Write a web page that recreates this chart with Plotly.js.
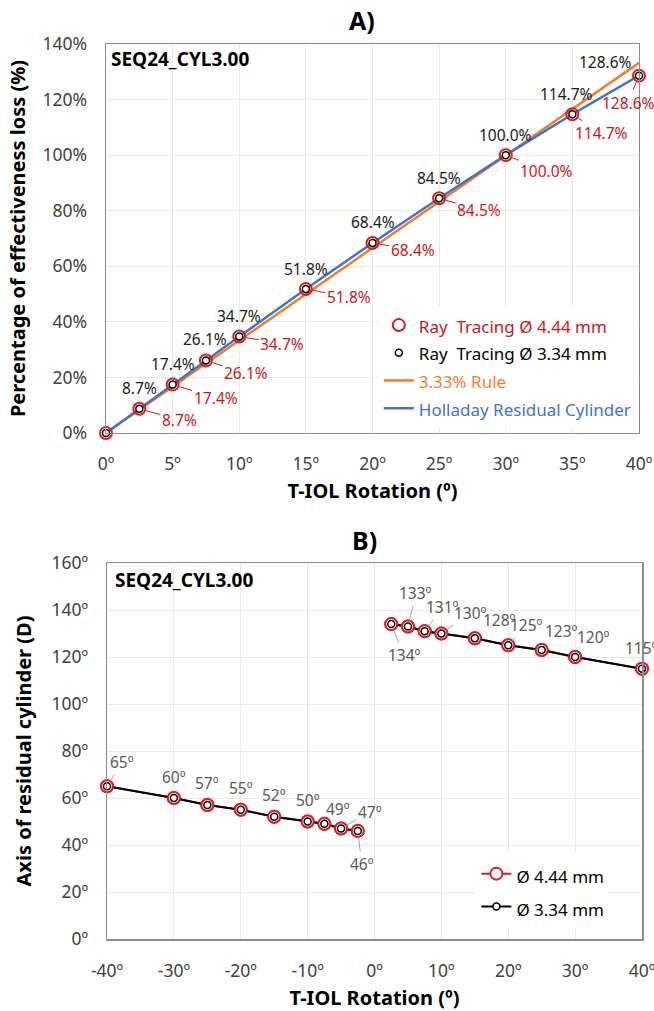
<!DOCTYPE html>
<html>
<head>
<meta charset="utf-8">
<script src="https://cdn.plot.ly/plotly-3.0.1.min.js"></script>
<style>
html,body{margin:0;padding:0;background:#fff;}
#chart{width:654px;height:1011px;}
</style>
</head>
<body>
<div id="chart"></div>
<script>
// ---------- Panel A data ----------
const rotationA = [0, 2.5, 5, 7.5, 10, 15, 20, 25, 30, 35, 40];
const lossRay444 = [0, 8.7, 17.4, 26.1, 34.7, 51.8, 68.4, 84.5, 100.0, 114.7, 128.6];
const lossRay334 = [0, 8.7, 17.4, 26.1, 34.7, 51.8, 68.4, 84.5, 100.0, 114.7, 128.6];
const ruleLoss = [0, 8.3, 16.7, 25.0, 33.3, 50.0, 66.6, 83.3, 99.9, 116.6, 133.2];
const holladayLoss = [0, 8.7, 17.4, 26.1, 34.7, 51.8, 68.4, 84.5, 100.0, 114.7, 128.6];
const xTicksA = [0, 5, 10, 15, 20, 25, 30, 35, 40];
const yTicksA = [0, 20, 40, 60, 80, 100, 120, 140];

// ---------- Panel B data ----------
const rotationNeg = [-40, -30, -25, -20, -15, -10, -7.5, -5, -2.5];
const axisNeg = [65, 60, 57, 55, 52, 50, 49, 47, 46];
const rotationPos = [2.5, 5, 7.5, 10, 15, 20, 25, 30, 40];
const axisPos = [134, 133, 131, 130, 128, 125, 123, 120, 115];
const xTicksB = [-40, -30, -20, -10, 0, 10, 20, 30, 40];
const yTicksB = [0, 20, 40, 60, 80, 100, 120, 140, 160];

// ---------- styles / label placement (pixel offsets) ----------
const FONT = 'Noto Sans, Open Sans, sans-serif';
const RED = '#D0202A', RED_TXT = '#C8161E', ORANGE = '#ED7D31', BLUE = '#4472C4';
const GRID = '#ECE9DF', FRAME = '#8C8C8C', TICK = '#404040', GREY_TXT = '#595959';

const redOff = [null, [40,11],[43,13],[40,13],[43,7],[43,8],[40,7],[40,12],[41,16],[29,19],[-11,27]];
const blackOff = [null, [0,-21],[0,-21],[-1,-21],[0,-21],[0,-20],[0,-21],[0,-20],[0,-20],[-6,-20],[-34,-14]];
const negOff = [[15,-24,1],[0,-21,0],[0,-22,0],[0,-22,0],[0,-22,0],[0,-22,0],[14,-15,0],[29,-17,1],[4,33,1]];
const posOff = [[13,31,1],[8,-33,1],[18,-24,1],[29,-21,1],[25,-18,0],[18,-20,1],[20,-19,0],[18,-20,0],[0,-21,0]];

const degFmt = v => v + 'º';
const pctFmt = v => v + '%';

// combined panel B series (gap between the two branches)
const xB = rotationNeg.concat([null], rotationPos);
const yB = axisNeg.concat([null], axisPos);

const traces = [
  // Panel A
  {x: rotationA, y: ruleLoss, type: 'scatter', mode: 'lines', xaxis: 'x', yaxis: 'y',
   name: '<span style="color:' + ORANGE + ';font-size:17px">3.33% Rule</span>',
   line: {color: ORANGE, width: 2.5}, legend: 'legend', legendrank: 3},
  {x: rotationA, y: holladayLoss, type: 'scatter', mode: 'lines', xaxis: 'x', yaxis: 'y',
   name: '<span style="color:' + BLUE + ';font-size:17px">Holladay Residual Cylinder</span>',
   line: {color: BLUE, width: 2.5}, legend: 'legend', legendrank: 4},
  {x: rotationA, y: lossRay444, type: 'scatter', mode: 'markers', xaxis: 'x', yaxis: 'y',
   name: '<span style="color:' + RED_TXT + ';font-size:17px">Ray  Tracing Ø 4.44 mm</span>',
   marker: {symbol: 'circle', size: 12, color: 'rgba(255,255,255,0)', line: {color: RED, width: 2}},
   cliponaxis: false, legend: 'legend', legendrank: 1},
  {x: rotationA, y: lossRay334, type: 'scatter', mode: 'markers', xaxis: 'x', yaxis: 'y',
   name: '<span style="color:#000;font-size:17px">Ray  Tracing Ø 3.34 mm</span>',
   marker: {symbol: 'circle', size: 7, color: '#ffffff', line: {color: '#000', width: 1.5}},
   cliponaxis: false, legend: 'legend', legendrank: 2},
  // Panel B
  {x: xB, y: yB, type: 'scatter', mode: 'lines+markers', xaxis: 'x2', yaxis: 'y2',
   name: '<span style="font-size:17px">Ø 4.44 mm</span>', connectgaps: false,
   line: {color: RED, width: 2},
   marker: {symbol: 'circle', size: 12, color: '#ffffff', line: {color: RED, width: 2}},
   cliponaxis: false, legend: 'legend2', legendrank: 1},
  {x: xB, y: yB, type: 'scatter', mode: 'lines+markers', xaxis: 'x2', yaxis: 'y2',
   name: '<span style="font-size:17px">Ø 3.34 mm</span>', connectgaps: false,
   line: {color: '#000', width: 2},
   marker: {symbol: 'circle', size: 7, color: '#ffffff', line: {color: '#000', width: 1.5}},
   cliponaxis: false, legend: 'legend2', legendrank: 2},
  {x: xB, y: yB, type: 'scatter', mode: 'markers', xaxis: 'x2', yaxis: 'y2', showlegend: false,
   marker: {symbol: 'circle', size: 12, color: '#ffffff', line: {color: RED, width: 2}},
   cliponaxis: false, hoverinfo: 'skip'},
  {x: xB, y: yB, type: 'scatter', mode: 'markers', xaxis: 'x2', yaxis: 'y2', showlegend: false,
   marker: {symbol: 'circle', size: 7, color: '#ffffff', line: {color: '#000', width: 1.5}},
   cliponaxis: false, hoverinfo: 'skip'}
];

const annotations = [];
// Panel A data labels
rotationA.forEach((x, i) => {
  if (!redOff[i]) return;
  annotations.push({x: x, y: lossRay444[i], xref: 'x', yref: 'y', text: pctFmt(lossRay444[i].toFixed(1)),
    showarrow: true, ax: redOff[i][0], ay: redOff[i][1], arrowhead: 0, arrowwidth: 1, arrowcolor: RED_TXT,
    standoff: 7, font: {family: FONT, size: 15.5, color: RED_TXT}});
  annotations.push({x: x, y: lossRay334[i], xref: 'x', yref: 'y', text: pctFmt(lossRay334[i].toFixed(1)),
    showarrow: true, ax: blackOff[i][0], ay: blackOff[i][1], arrowhead: 0, arrowwidth: 1, arrowcolor: 'rgba(0,0,0,0)',
    font: {family: FONT, size: 15.5, color: '#1a1a1a'}});
});
// Panel B data labels
function addB(xs, ys, offs) {
  xs.forEach((x, i) => {
    annotations.push({x: x, y: ys[i], xref: 'x2', yref: 'y2', text: degFmt(ys[i]),
      showarrow: true, ax: offs[i][0], ay: offs[i][1], arrowhead: 0, arrowwidth: 1,
      arrowcolor: offs[i][2] ? '#A6A6A6' : 'rgba(0,0,0,0)', standoff: 6,
      font: {family: FONT, size: 15.5, color: GREY_TXT}});
  });
}
addB(rotationNeg, axisNeg, negOff);
addB(rotationPos, axisPos, posOff);
// Panel titles and case labels
annotations.push({text: '<b>A)</b>', xref: 'paper', yref: 'paper', x: 0.4776, y: 1.0268, showarrow: false,
  font: {family: FONT, size: 25, color: '#000'}, xanchor: 'center', yanchor: 'middle'});
annotations.push({text: '<b>B)</b>', xref: 'paper', yref: 'paper', x: 0.483, y: 0.4458, showarrow: false,
  font: {family: FONT, size: 25, color: '#000'}, xanchor: 'center', yanchor: 'middle'});
annotations.push({text: '<b>SEQ24_CYL3.00</b>', xref: 'paper', yref: 'paper', x: 0.006, y: 0.9832, showarrow: false,
  font: {family: FONT, size: 19, color: '#000'}, xanchor: 'left', yanchor: 'middle'});
annotations.push({text: '<b>SEQ24_CYL3.00</b>', xref: 'paper', yref: 'paper', x: 0.013, y: 0.401, showarrow: false,
  font: {family: FONT, size: 19, color: '#000'}, xanchor: 'left', yanchor: 'middle'});

const axisCommon = {
  showgrid: true, gridcolor: GRID, gridwidth: 1, zeroline: false,
  showline: true, mirror: true, linecolor: FRAME, linewidth: 1.5,
  ticks: 'outside', tickcolor: 'rgba(0,0,0,0)', ticklabeloverflow: 'allow',
  tickfont: {family: FONT, size: 17.5, color: TICK}, fixedrange: true
};

const layout = {
  width: 654, height: 1011,
  margin: {l: 106, r: 12, t: 44, b: 72},
  paper_bgcolor: '#ffffff', plot_bgcolor: '#ffffff',
  font: {family: FONT, color: '#000'},
  showlegend: true,
  xaxis: Object.assign({}, axisCommon, {domain: [0, 0.9944], range: [0, 40], anchor: 'y',
    tickvals: xTicksA, ticktext: xTicksA.map(degFmt), ticklen: 15,
    title: {text: '<b>T-IOL Rotation (º)</b>', font: {family: FONT, size: 20, color: '#000'}, standoff: 9}}),
  yaxis: Object.assign({}, axisCommon, {domain: [0.5654, 1], range: [0, 140], anchor: 'x',
    tickvals: yTicksA, ticktext: yTicksA.map(pctFmt), ticklen: 14,
    title: {text: '<b>Percentage of effectiveness loss (%)</b>', font: {family: FONT, size: 20, color: '#000'}, standoff: 11}}),
  xaxis2: Object.assign({}, axisCommon, {domain: [0.0019, 1], range: [-40, 40], anchor: 'y2',
    tickvals: xTicksB, ticktext: xTicksB.map(degFmt), ticklen: 15,
    title: {text: '<b>T-IOL Rotation (º)</b>', font: {family: FONT, size: 20, color: '#000'}, standoff: 12}}),
  yaxis2: Object.assign({}, axisCommon, {domain: [0, 0.4201], range: [0, 160], anchor: 'x2',
    tickvals: yTicksB, ticktext: yTicksB.map(degFmt), ticklen: 14,
    title: {text: '<b>Axis of residual cylinder (D)</b>', font: {family: FONT, size: 20, color: '#000'}, standoff: 14}}),
  legend: {x: 0.509, y: 0.707, xanchor: 'left', yanchor: 'top', bgcolor: '#ffffff',
    font: {family: FONT, size: 19, color: '#000'}, traceorder: 'normal', itemclick: false},
  legend2: {x: 0.691, y: 0.097, xanchor: 'left', yanchor: 'top', bgcolor: '#ffffff',
    font: {family: FONT, size: 23, color: '#000'}, traceorder: 'normal', itemclick: false},
  annotations: annotations
};

Plotly.newPlot('chart', traces, layout, {displayModeBar: false, staticPlot: true});
</script>
</body>
</html>
